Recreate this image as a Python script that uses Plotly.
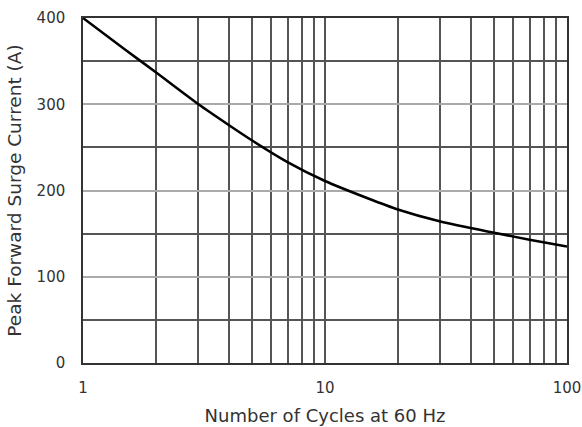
import plotly.graph_objects as go

cycles = [1, 1.5, 2, 3, 4, 5, 7, 10, 15, 20, 30, 50, 70, 100]
current = [400, 363, 337, 300, 276, 258, 233, 211, 191, 178, 164, 151, 143, 135]

x_tickvals = [1, 2, 3, 4, 5, 6, 7, 8, 9, 10, 20, 30, 40, 50, 60, 70, 80, 90, 100]
x_ticktext = ["1", "", "", "", "", "", "", "", "", "10", "", "", "", "", "", "", "", "", "100"]

FONT = "DejaVu Sans, Verdana, sans-serif"
TXT = "#333"

fig = go.Figure()
fig.add_trace(go.Scatter(x=cycles, y=current, mode="lines",
                         line=dict(color="black", width=2.5, shape="spline", smoothing=0.7),
                         showlegend=False, hoverinfo="skip"))

fig.update_layout(
    width=582, height=427,
    margin=dict(l=83, r=15, t=18, b=64),
    paper_bgcolor="white", plot_bgcolor="white",
    font=dict(family=FONT, size=15, color=TXT),
)
fig.update_xaxes(
    type="log", range=[0, 2], automargin=False,
    tickvals=x_tickvals, ticktext=x_ticktext,
    showgrid=True, gridcolor="#555", gridwidth=1.6,
    showline=True, linecolor="#333", linewidth=1.5, mirror=True,
    ticks="outside", ticklen=10, tickcolor="rgba(0,0,0,0)",
    title=dict(text="Number of Cycles at 60 Hz", font=dict(family=FONT, size=18, color=TXT), standoff=14),
    tickfont=dict(family=FONT, size=15, color=TXT),
    zeroline=False,
)
fig.update_yaxes(
    range=[0, 400], dtick=100, automargin=False,
    showgrid=True, gridcolor="#aaa", gridwidth=1.6,
    minor=dict(dtick=50, showgrid=True, gridcolor="#555", gridwidth=1.6),
    showline=True, linecolor="#333", linewidth=1.5, mirror=True,
    ticks="outside", ticklen=13, tickcolor="rgba(0,0,0,0)",
    zeroline=False,
    title=dict(text="Peak Forward Surge Current (A)", font=dict(family=FONT, size=18.5, color=TXT), standoff=10),
    tickfont=dict(family=FONT, size=15, color=TXT),
)

fig.write_html("out.html")
